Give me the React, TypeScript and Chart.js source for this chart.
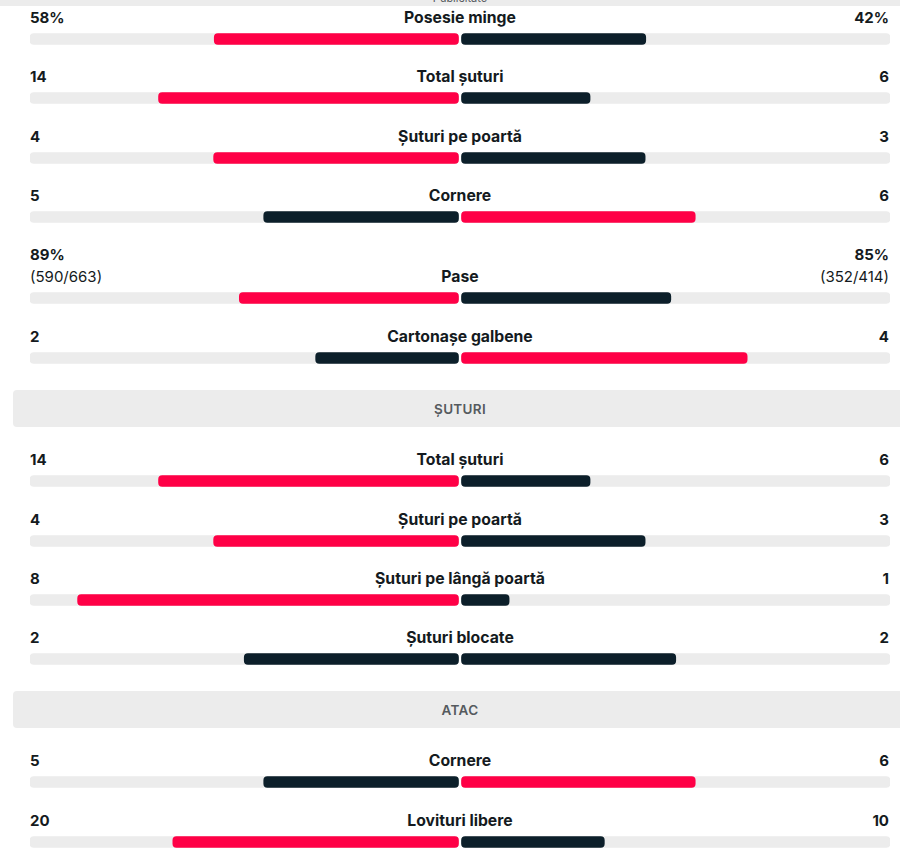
import React, { useEffect, useRef } from "react";
import { Chart, registerables } from "chart.js";

Chart.register(...registerables);

const statTitles = [
  "Posesie minge", "Total șuturi", "Șuturi pe poartă", "Cornere", "Pase", "Cartonașe galbene",
  "Total șuturi", "Șuturi pe poartă", "Șuturi pe lângă poartă", "Șuturi blocate",
  "Cornere", "Lovituri libere",
];
const homeValues = [57, 14, 4, 5, 89, 2, 14, 4, 8, 2, 5, 20];
const awayValues = [43, 6, 3, 6, 85, 4, 6, 3, 1, 2, 6, 10];
const homeLabels = ["58%", "14", "4", "5", "89%", "2", "14", "4", "8", "2", "5", "20"];
const awayLabels = ["42%", "6", "3", "6", "85%", "4", "6", "3", "1", "2", "6", "10"];
const homeSubLabels = ["", "", "", "", "(590/663)", "", "", "", "", "", "", ""];
const awaySubLabels = ["", "", "", "", "(352/414)", "", "", "", "", "", "", ""];
const sectionTitles = ["ȘUTURI", "ATAC"];
const sectionStarts = [6, 10];

const RED = "#ff0046";
const DARK = "#0c1f2a";
const TRACK = "#ececec";
const TEXT = "#141a20";
const FONT = "Inter, 'Noto Sans', sans-serif";

function StatBar({ home, away, top }: { home: number; away: number; top: number }) {
  const ref = useRef<HTMLCanvasElement | null>(null);
  useEffect(() => {
    if (!ref.current) return;
    const total = home + away;
    const hf = total > 0 ? home / total : 0;
    const af = total > 0 ? away / total : 0;
    const g = 0.0035;
    const homeColor = home > away ? RED : DARK;
    const awayColor = away > home ? RED : DARK;
    const common = {
      grouped: false,
      barThickness: 11,
      borderRadius: 4,
      borderSkipped: false as const,
    };
    const chart = new Chart(ref.current, {
      type: "bar",
      data: {
        labels: [""],
        datasets: [
          { ...common, data: [[-(g + hf * (1 - g)), -g]] as any, backgroundColor: homeColor },
          { ...common, data: [[g, g + af * (1 - g)]] as any, backgroundColor: awayColor },
          { ...common, data: [[-1, -g]] as any, backgroundColor: TRACK },
          { ...common, data: [[g, 1]] as any, backgroundColor: TRACK },
        ],
      },
      options: {
        indexAxis: "y",
        responsive: false,
        maintainAspectRatio: false,
        animation: false,
        layout: { padding: 0 },
        plugins: { legend: { display: false }, tooltip: { enabled: false } },
        scales: {
          x: { type: "linear", min: -1, max: 1, display: false },
          y: { type: "category", display: false },
        },
      },
    });
    return () => chart.destroy();
  }, [home, away]);
  return (
    <canvas
      ref={ref}
      width={860}
      height={12}
      style={{ position: "absolute", left: 30, top, width: 860, height: 12, display: "block" }}
    />
  );
}

function StatRow({ i }: { i: number }) {
  const hasSub = homeSubLabels[i] !== "" || awaySubLabels[i] !== "";
  const textH = hasSub ? 42 : 20;
  const rowH = hasSub ? 82 : 59.33;
  const valStyle: React.CSSProperties = {
    position: "absolute",
    fontWeight: 700,
    fontSize: 15,
    lineHeight: "20px",
    color: TEXT,
    whiteSpace: "nowrap",
  };
  const subStyle: React.CSSProperties = { ...valStyle, fontWeight: 400, top: 22 };
  return (
    <div style={{ position: "relative", height: rowH }}>
      <div style={{ ...valStyle, left: 30, top: 1 }}>{homeLabels[i]}</div>
      {homeSubLabels[i] && <div style={{ ...subStyle, left: 30, top: 23 }}>{homeSubLabels[i]}</div>}
      <div style={{ ...valStyle, right: 11, top: 1, textAlign: "right" }}>{awayLabels[i]}</div>
      {awaySubLabels[i] && <div style={{ ...subStyle, right: 11, top: 23, textAlign: "right" }}>{awaySubLabels[i]}</div>}
      <div style={{ ...valStyle, fontSize: 15.75, left: 0, width: 920, textAlign: "center", top: textH - 19 }}>{statTitles[i]}</div>
      <StatBar home={homeValues[i]} away={awayValues[i]} top={textH + 6} />
    </div>
  );
}

function SectionHeader({ title }: { title: string }) {
  return (
    <div style={{ paddingTop: 4.67, paddingBottom: 22 }}>
      <div
        style={{
          marginLeft: 13,
          width: 894,
          height: 37,
          background: TRACK,
          borderRadius: 4,
          display: "flex",
          alignItems: "center",
          justifyContent: "center",
          fontSize: 13.5,
          fontWeight: 600,
          color: "#555a5e",
          letterSpacing: 0.3,
        }}
      >
        {title}
      </div>
    </div>
  );
}

export default function App() {
  const items: React.ReactNode[] = [];
  statTitles.forEach((_, i) => {
    const s = sectionStarts.indexOf(i);
    if (s >= 0) items.push(<SectionHeader key={"s" + s} title={sectionTitles[s]} />);
    items.push(<StatRow key={"r" + i} i={i} />);
  });
  return (
    <div
      style={{
        position: "absolute",
        top: 0,
        left: 0,
        width: 900,
        height: 856,
        overflow: "hidden",
        background: "#fff",
        fontFamily: FONT,
      }}
    >
      <div style={{ height: 6, background: TRACK, position: "relative", overflow: "hidden" }}>
        <div
          style={{
            position: "absolute",
            top: -8,
            left: 0,
            width: 920,
            textAlign: "center",
            fontSize: 11,
            lineHeight: "12px",
            color: "#555a5e",
          }}
        >
          Publicitate
        </div>
      </div>
      <div style={{ height: 1 }} />
      {items}
    </div>
  );
}
